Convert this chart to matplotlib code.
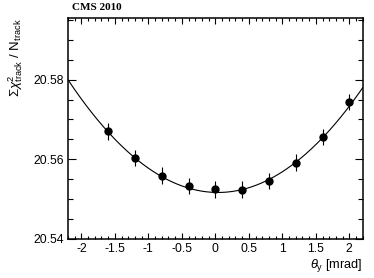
import numpy as np
import matplotlib.pyplot as plt
from matplotlib.ticker import MultipleLocator

plt.rcParams['font.family'] = ['Liberation Sans', 'DejaVu Sans']
plt.rcParams['mathtext.fontset'] = 'custom'
plt.rcParams['mathtext.rm'] = 'Liberation Sans'
plt.rcParams['mathtext.it'] = 'Liberation Sans:italic'

# measured points
theta_y = np.array([-1.6, -1.2, -0.8, -0.4, 0.0, 0.4, 0.8, 1.2, 1.6, 2.0])
chi2 = np.array([20.5670, 20.5603, 20.5558, 20.5532, 20.5524,
                 20.5523, 20.5545, 20.5591, 20.5656, 20.5744])
chi2_err = np.array([0.0021] * 10)

# parabola fit: a*(x - x0)^2 + c
fit_a = 0.00566
fit_x0 = 0.04
fit_c = 20.5516

fig = plt.figure(figsize=(3.74, 2.78), dpi=100)
ax = fig.add_axes([68/374, 1 - 238.5/278, (362.7-68)/374, (238.5-18.3)/278])

xx = np.linspace(-2.2, 2.2, 300)
ax.plot(xx, fit_a*(xx - fit_x0)**2 + fit_c, color='black', lw=0.8)
ax.errorbar(theta_y, chi2, yerr=chi2_err, fmt='o', color='black',
            ms=5, elinewidth=0.8, capsize=0)

ax.set_xlim(-2.2, 2.2)
ax.set_ylim(20.54, 20.5955)
ax.xaxis.set_minor_locator(MultipleLocator(0.1))
ax.set_xticks([-2, -1.5, -1, -0.5, 0, 0.5, 1, 1.5, 2])
ax.set_xticklabels(['-2', '-1.5', '-1', '-0.5', '0', '0.5', '1', '1.5', '2'])
ax.set_yticks([20.54, 20.56, 20.58])
ax.set_yticklabels(['20.54', '20.56', '20.58'])
ax.yaxis.set_minor_locator(MultipleLocator(0.005))

ax.tick_params(which='both', direction='in', top=True, right=True,
               labelsize=8.8, width=0.8, pad=3)
ax.tick_params(axis='x', which='major', length=4.5)
ax.tick_params(axis='x', which='minor', length=2.3)
ax.tick_params(axis='y', which='major', length=6)
ax.tick_params(axis='y', which='minor', length=3.5)
for s in ax.spines.values():
    s.set_linewidth(1.1)

ax.set_xlabel(r'$\theta_{\rm y}$ [mrad]', fontsize=9.2, loc='right', labelpad=2)
ax.set_ylabel(r'$\Sigma\chi^{2}_{\rm track}$ / N$_{\rm track}$', fontsize=9.5,
              loc='top', labelpad=6)

fig.text(72/374, 1 - 8/278, 'CMS 2010', fontsize=8, fontweight='bold',
         family='Liberation Serif', va='center', ha='left')

fig.savefig('out.png', dpi=100)
